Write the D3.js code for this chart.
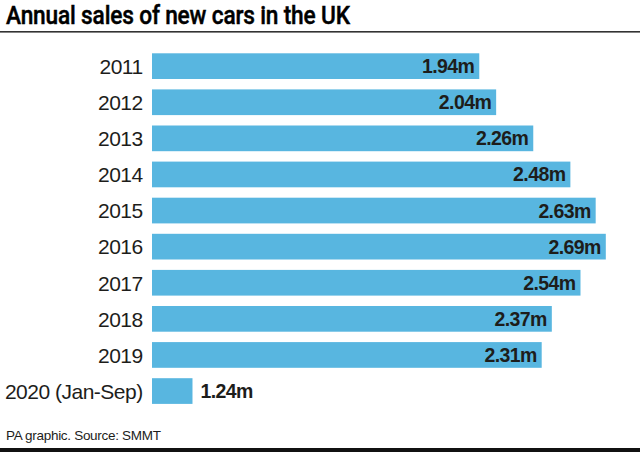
<!DOCTYPE html>
<html>
<head>
<meta charset="utf-8">
<script src="https://cdn.jsdelivr.net/npm/d3@7/dist/d3.min.js"></script>
<style>
  html, body { margin: 0; padding: 0; background: #fff; }
  svg { display: block; }
</style>
</head>
<body>
<svg id="chart" width="640" height="452"></svg>
<script>
// ---- data ----
const categories = ["2011", "2012", "2013", "2014", "2015", "2016", "2017", "2018", "2019", "2020 (Jan-Sep)"];
// bar lengths as drawn in the reference (millions); the 2020 bar is drawn short in the original graphic
const barValues = [1.94, 2.04, 2.26, 2.48, 2.63, 2.69, 2.54, 2.37, 2.31, 0.24];
const valueLabels = ["1.94m", "2.04m", "2.26m", "2.48m", "2.63m", "2.69m", "2.54m", "2.37m", "2.31m", "1.24m"];
const title = "Annual sales of new cars in the UK";
const footer = "PA graphic. Source: SMMT";

const W = 640, H = 452;
const svg = d3.select("#chart");
const font = "'Liberation Sans', Arial, sans-serif";
const ink = "#1d1d1b";
const barColor = "#58b6e0";

const x = d3.scaleLinear().domain([0, 1]).range([152, 152 + 168.7]);
const y = d3.scaleBand().domain(categories).range([53.3, 403.9]).paddingInner(0.288).paddingOuter(0);

// title (horizontally condensed to match the narrow headline face)
const titleText = svg.append("text")
  .attr("x", 0).attr("y", 0)
  .attr("font-family", "Roboto, " + font)
  .attr("font-weight", 500)
  .attr("font-size", 25.5)
  .attr("letter-spacing", -0.2)
  .attr("fill", "#000")
  .attr("stroke", "#000")
  .attr("stroke-width", 0.45)
  .text(title);
const tw = titleText.node().getComputedTextLength();
const sx = 344 / tw;
titleText.attr("transform", `translate(6,23.5) scale(${sx},1)`);

svg.append("rect").attr("x", 0).attr("y", 31).attr("width", W).attr("height", 1.6).attr("fill", "#333");

// bars
const rows = categories.map((c, i) => ({ c, v: barValues[i], label: valueLabels[i] }));

svg.append("g").selectAll("rect").data(rows).join("rect")
  .attr("x", x(0))
  .attr("y", d => y(d.c))
  .attr("width", d => x(d.v) - x(0))
  .attr("height", y.bandwidth())
  .attr("fill", barColor);

// category labels
svg.append("g").selectAll("text").data(rows).join("text")
  .attr("x", 142.7)
  .attr("y", d => y(d.c) + y.bandwidth() / 2)
  .attr("dy", "0.37em")
  .attr("text-anchor", "end")
  .attr("font-family", font)
  .attr("font-size", 21)
  .attr("letter-spacing", -0.5)
  .attr("fill", ink)
  .text(d => d.c);

// value labels
svg.append("g").selectAll("text").data(rows).join("text")
  .attr("x", d => (x(d.v) - x(0) > 80) ? x(d.v) - 5 : x(d.v) + 8)
  .attr("y", d => y(d.c) + y.bandwidth() / 2)
  .attr("dy", "0.36em")
  .attr("text-anchor", d => (x(d.v) - x(0) > 80) ? "end" : "start")
  .attr("font-family", font)
  .attr("font-weight", 700)
  .attr("font-size", 19.5)
  .attr("letter-spacing", -0.6)
  .attr("fill", ink)
  .text(d => d.label);

// footer
svg.append("text")
  .attr("x", 6).attr("y", 440)
  .attr("font-family", font)
  .attr("font-size", 13.5)
  .attr("letter-spacing", -0.3)
  .attr("fill", ink)
  .text(footer);

svg.append("rect").attr("x", 0).attr("y", 448).attr("width", W).attr("height", 4).attr("fill", "#111");
</script>
</body>
</html>
